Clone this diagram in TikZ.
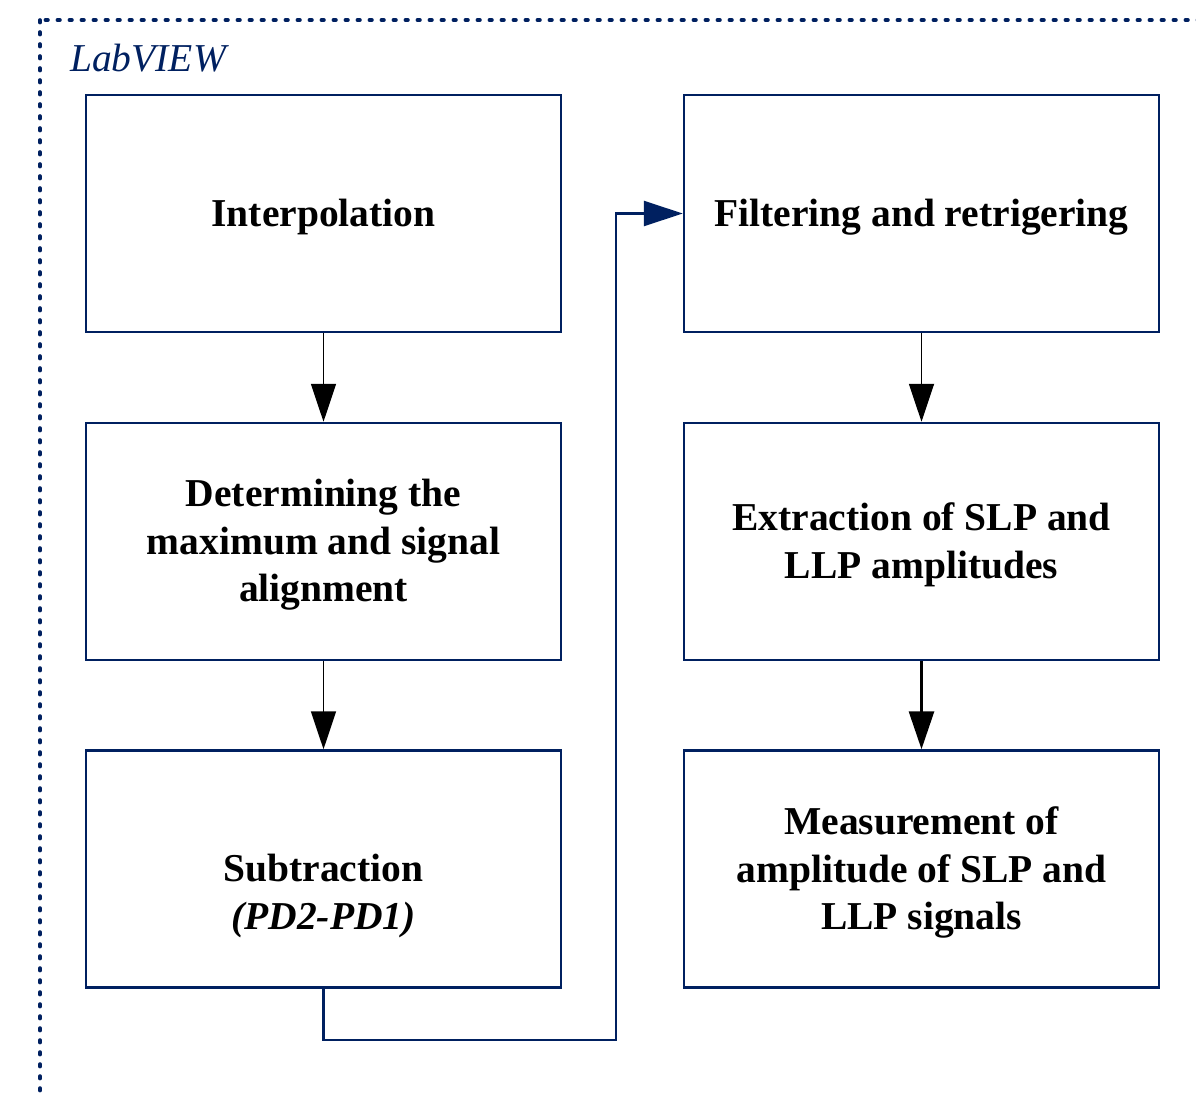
\documentclass[tikz,border=0pt]{standalone}
\usepackage{fontspec}
\setmainfont{Liberation Serif}
\usetikzlibrary{arrows.meta,calc}
\definecolor{navy}{RGB}{0,32,96}
\tikzset{
  box/.style={draw=navy, line width=2.5bp, minimum width=475bp, minimum height=237bp, inner sep=0pt},
  boxtext/.style={inner sep=0pt, align=center, font=\fontsize{39.5bp}{47.5bp}\selectfont\bfseries},
  flowarrow/.style={draw=black, line width=1.8bp, -{Triangle[length=38bp,width=25bp]}},
  thickarrow/.style={draw=black, line width=3bp, -{Triangle[length=38bp,width=25bp]}},
  feedback/.style={draw=navy, line width=2.6bp, -{Triangle[length=39bp,width=25bp]}},
  frame/.style={draw=navy, line width=3.6bp, line cap=round, dash pattern=on 2.6bp off 9.4bp},
}
\begin{document}
\begin{tikzpicture}[x=1bp,y=-1bp]
\useasboundingbox (0,0) rectangle (1196,1094);
\clip (0,0) rectangle (1196,1094);
\draw[frame] (40,20) rectangle (1240,1140);
\node[anchor=base west, text=navy, inner sep=0pt, font=\fontsize{39.5bp}{46bp}\selectfont\itshape] (lv) at (70,71) {LabVIEW};

\node[box] (interp) at (323.5,213.5) {};
\node[box] (determ) at (323.5,541.5) {};
\node[box] (subtr) at (323.5,869) {};
\node[box] (filt) at (921.5,213.5) {};
\node[box] (extr) at (921.5,541.5) {};
\node[box] (meas) at (921.5,869) {};

\node[boxtext] (interp-t) at ($(interp.center)+(0,3.5)$) {Interpolation};
\node[boxtext] (determ-t) at ($(determ.center)+(0,3.5)$) {Determining the\\maximum and signal\\alignment};
\node[boxtext] (subtr-t) at ($(subtr.center)+(0,27)$) {Subtraction\\\textit{(PD2-PD1)}};
\node[boxtext] (filt-t) at ($(filt.center)+(0,3.5)$) {Filtering and retrigering};
\node[boxtext] (extr-t) at ($(extr.center)+(0,3.5)$) {Extraction of SLP and\\LLP amplitudes};
\node[boxtext] (meas-t) at ($(meas.center)+(0,3.5)$) {Measurement of\\amplitude of SLP and\\LLP signals};

\draw[flowarrow] (interp.south) -- (determ.north);
\draw[flowarrow] (determ.south) -- (subtr.north);
\draw[flowarrow] (filt.south) -- (extr.north);
\draw[thickarrow] (extr.south) -- (meas.north);

\coordinate (j1) at (616,1040);
\draw[feedback] (subtr.south) |- (j1) |- (filt.west);
\end{tikzpicture}
\end{document}
